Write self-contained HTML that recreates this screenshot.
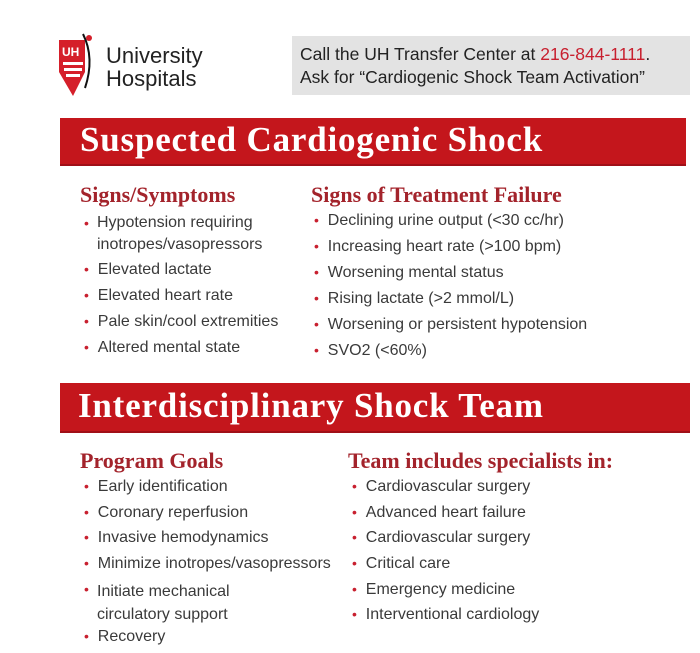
<!DOCTYPE html>
<html><head><style>
body{margin:0;width:700px;height:653px;background:#fff;position:relative;overflow:hidden;font-family:"Liberation Sans",sans-serif;}
.a{position:absolute;white-space:nowrap;}
.t{font-size:16px;color:#3a3a3a;}
.b{color:#c8202f;font-size:14px;}
.h{font-family:"Liberation Serif",serif;font-weight:bold;color:#a3232b;font-size:22px;}
.bar{position:absolute;background:#c4161c;border-bottom:2px solid #a01018;}
.bt{font-family:"Liberation Serif",serif;font-weight:bold;color:#fff;font-size:35px;letter-spacing:0.8px;position:absolute;white-space:nowrap;}
</style></head><body>
<svg class="a" style="left:55px;top:30px" width="50" height="70" viewBox="0 0 50 70">
<path d="M4 10 H30 V42 L18 66 L4 42 Z" fill="#d51f2a"/>
<text x="7" y="26" font-family="Liberation Sans" font-weight="bold" font-size="12" fill="#fff">UH</text>
<rect x="8" y="32" width="20" height="3" fill="#fff"/><rect x="9" y="38" width="18" height="3" fill="#fff"/><rect x="11" y="44" width="14" height="3" fill="#fff"/>
<path d="M28 4 Q40 28 30 58" stroke="#111" stroke-width="2" fill="none"/>
<circle cx="34" cy="8" r="3" fill="#d51f2a"/>
</svg>
<div class="a" style="left:106px;top:44px;font-size:22px;line-height:23px;color:#222">University<br>Hospitals</div>
<div class="a" style="left:292px;top:36px;width:398px;height:59px;background:#e3e3e3"></div>
<div class="a" style="left:300px;top:43px;font-size:17.5px;line-height:23px;color:#222">Call the UH Transfer Center at <span style="color:#c8202f">216-844-1111</span>.<br>Ask for “Cardiogenic Shock Team Activation”</div>

<div class="bar" style="left:60px;top:118px;width:626px;height:46px"></div>
<div class="bt" style="left:80px;top:120px">Suspected Cardiogenic Shock</div>

<div class="a h" style="left:80px;top:182px">Signs/Symptoms</div>
<div class="a t" style="left:84px;top:212px;line-height:22px"><span class="b">•</span></div>
<div class="a t" style="left:97px;top:212px;line-height:22px">Hypotension requiring<br>inotropes/vasopressors</div>
<div class="a t" style="left:84px;top:261px"><span class="b">•</span>&nbsp;&nbsp;Elevated lactate</div>
<div class="a t" style="left:84px;top:287px"><span class="b">•</span>&nbsp;&nbsp;Elevated heart rate</div>
<div class="a t" style="left:84px;top:313px"><span class="b">•</span>&nbsp;&nbsp;Pale skin/cool extremities</div>
<div class="a t" style="left:84px;top:339px"><span class="b">•</span>&nbsp;&nbsp;Altered mental state</div>

<div class="a h" style="left:311px;top:182px">Signs of Treatment Failure</div>
<div class="a t" style="left:314px;top:212px"><span class="b">•</span>&nbsp;&nbsp;Declining urine output (&lt;30 cc/hr)</div>
<div class="a t" style="left:314px;top:238px"><span class="b">•</span>&nbsp;&nbsp;Increasing heart rate (&gt;100 bpm)</div>
<div class="a t" style="left:314px;top:264px"><span class="b">•</span>&nbsp;&nbsp;Worsening mental status</div>
<div class="a t" style="left:314px;top:290px"><span class="b">•</span>&nbsp;&nbsp;Rising lactate (&gt;2 mmol/L)</div>
<div class="a t" style="left:314px;top:316px"><span class="b">•</span>&nbsp;&nbsp;Worsening or persistent hypotension</div>
<div class="a t" style="left:314px;top:342px"><span class="b">•</span>&nbsp;&nbsp;SVO2 (&lt;60%)</div>

<div class="bar" style="left:60px;top:383px;width:630px;height:48px"></div>
<div class="bt" style="left:78px;top:386px">Interdisciplinary Shock Team</div>

<div class="a h" style="left:80px;top:448px">Program Goals</div>
<div class="a t" style="left:84px;top:478px"><span class="b">•</span>&nbsp;&nbsp;Early identification</div>
<div class="a t" style="left:84px;top:504px"><span class="b">•</span>&nbsp;&nbsp;Coronary reperfusion</div>
<div class="a t" style="left:84px;top:529px"><span class="b">•</span>&nbsp;&nbsp;Invasive hemodynamics</div>
<div class="a t" style="left:84px;top:555px"><span class="b">•</span>&nbsp;&nbsp;Minimize inotropes/vasopressors</div>
<div class="a t" style="left:84px;top:581px"><span class="b">•</span></div>
<div class="a t" style="left:97px;top:580px;line-height:23px">Initiate mechanical<br>circulatory support</div>
<div class="a t" style="left:84px;top:628px"><span class="b">•</span>&nbsp;&nbsp;Recovery</div>

<div class="a h" style="left:348px;top:448px">Team includes specialists in:</div>
<div class="a t" style="left:352px;top:478px"><span class="b">•</span>&nbsp;&nbsp;Cardiovascular surgery</div>
<div class="a t" style="left:352px;top:504px"><span class="b">•</span>&nbsp;&nbsp;Advanced heart failure</div>
<div class="a t" style="left:352px;top:529px"><span class="b">•</span>&nbsp;&nbsp;Cardiovascular surgery</div>
<div class="a t" style="left:352px;top:555px"><span class="b">•</span>&nbsp;&nbsp;Critical care</div>
<div class="a t" style="left:352px;top:581px"><span class="b">•</span>&nbsp;&nbsp;Emergency medicine</div>
<div class="a t" style="left:352px;top:606px"><span class="b">•</span>&nbsp;&nbsp;Interventional cardiology</div>
</body></html>
